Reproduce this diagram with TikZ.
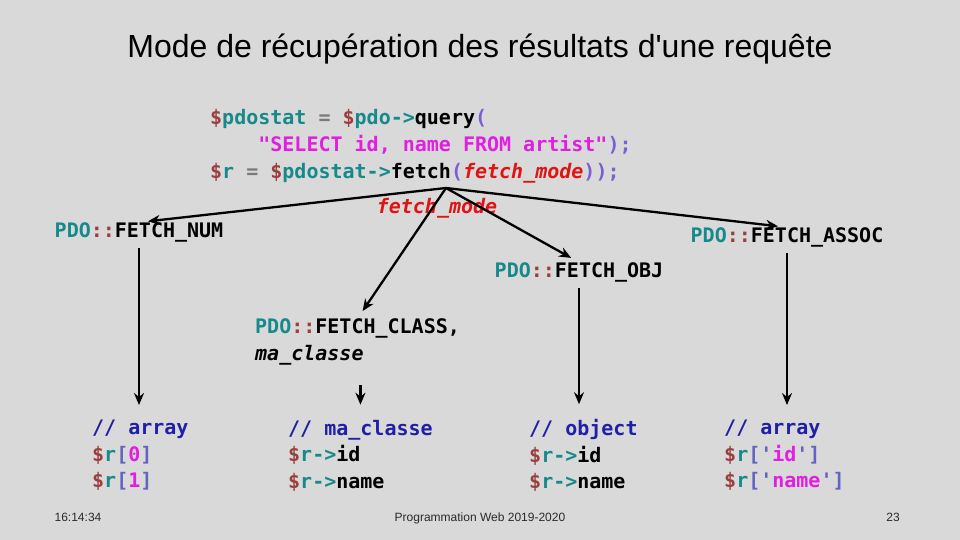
\documentclass[tikz,border=0pt]{standalone}
\usepackage{fontspec}
\setmainfont{Liberation Sans}
\setmonofont{DejaVu Sans Mono}
\usetikzlibrary{arrows.meta}

\definecolor{slidebg}{HTML}{D9D9D9}
\definecolor{phpdollar}{HTML}{9A3E3E}
\definecolor{phpteal}{HTML}{168A8A}
\definecolor{phpop}{HTML}{7A7A7A}
\definecolor{phpparen}{HTML}{7A5FD6}
\definecolor{phpstr}{HTML}{E01FE0}
\definecolor{phpred}{HTML}{E01414}
\definecolor{phpcom}{HTML}{1F1FA8}
\definecolor{phpbr}{HTML}{6464C0}
\definecolor{footgray}{HTML}{2A2A2A}

\newcommand{\codefont}{\ttfamily\bfseries\fontsize{20}{27}\selectfont}
\newcommand{\phpv}[1]{\textcolor{phpdollar}{\$}\textcolor{phpteal}{#1}}
\newcommand{\phparrow}{\textcolor{phpteal}{->}}
\newcommand{\pdoconst}[1]{\textcolor{phpteal}{PDO}\textcolor{phpdollar}{::}#1}

\begin{document}
\begin{tikzpicture}[
  x=1pt, y=-1pt,
  >={Stealth[length=12pt,width=10pt]},
  code/.style={font=\codefont, text=black, inner sep=0pt, align=left},
  label/.style={code, text height=15pt, text depth=4pt},
  block/.style={code, font=\ttfamily\bfseries\fontsize{20}{26.5}\selectfont,
                execute at begin node=\strut, execute at end node=\strut},
  footer/.style={text=footgray, font=\fontsize{12}{14}\selectfont, anchor=base},
  link/.style={->, line width=2.3pt, shorten >=9pt},
  down/.style={->, line width=2.3pt, shorten <=6pt, shorten >=15pt},
]
\useasboundingbox (0,0) rectangle (960,540);
\fill[slidebg] (0,0) rectangle (960,540);

% ===== title =====
\node (title) at (480,49) {\fontsize{32}{36}\selectfont Mode de récupération des résultats d\textquotesingle une requête};

% ===== query code =====
\node (query) [code, anchor=west] at (210,146) {%
  \phpv{pdostat} \textcolor{phpop}{=} \phpv{pdo}\phparrow query\textcolor{phpparen}{(}\\
  \phantom{xxxx}\textcolor{phpstr}{"SELECT id, name FROM artist"}\textcolor{phpparen}{);}\\
  \phpv{r} \textcolor{phpop}{=} \phpv{pdostat}\phparrow fetch\textcolor{phpparen}{(}\textcolor{phpred}{\itshape fetch\_mode}\textcolor{phpparen}{));}};

% ===== fetch modes =====
\coordinate (apex) at (446,188);
\node (fm) [label, text=phpred] at (437,208) {\itshape fetch\_mode};
\node (num)   [label] at (139,232) {\pdoconst{FETCH\_NUM}};
\node (assoc) [label] at (787,237) {\pdoconst{FETCH\_ASSOC}};
\node (obj)   [label] at (579,272) {\pdoconst{FETCH\_OBJ}};
\node (cls)   [code, anchor=west] at (255,342) {\pdoconst{FETCH\_CLASS,}\\ \itshape ma\_classe};

\draw[link] (apex) -- (num.north);
\draw[link] (apex) -- (assoc.north);
\draw[link] (apex) -- (obj.north);
\draw[link] (apex) -- (cls.north);

% ===== results =====
\node (blk1) [block, anchor=west] at (92,458) {%
  \textcolor{phpcom}{// array}\\
  \phpv{r}\textcolor{phpbr}{[}\textcolor{phpstr}{0}\textcolor{phpbr}{]}\\
  \phpv{r}\textcolor{phpbr}{[}\textcolor{phpstr}{1}\textcolor{phpbr}{]}};
\node (blk2) [block, anchor=west] at (288,458) {%
  \textcolor{phpcom}{// ma\_classe}\\
  \phpv{r}\phparrow id\\
  \phpv{r}\phparrow name};
\node (blk3) [block, anchor=west] at (529,458) {%
  \textcolor{phpcom}{// object}\\
  \phpv{r}\phparrow id\\
  \phpv{r}\phparrow name};
\node (blk4) [block, anchor=west] at (724,458) {%
  \textcolor{phpcom}{// array}\\
  \phpv{r}\textcolor{phpbr}{['}\textcolor{phpstr}{id}\textcolor{phpbr}{']}\\
  \phpv{r}\textcolor{phpbr}{['}\textcolor{phpstr}{name}\textcolor{phpbr}{']}};

\draw[down] (num.south) -- (num.south |- blk1.north);
\draw[down, shorten <=20pt] (cls.south -| blk2.north) -- (blk2.north);
\draw[down] (obj.south) -- (obj.south |- blk3.north);
\draw[down] (assoc.south) -- (assoc.south |- blk4.north);

% ===== footer =====
\node (clock)  [footer] at (78,521) {16:14:34};
\node (course) [footer] at (480,521) {Programmation Web 2019-2020};
\node (pageno) [footer] at (893,521) {23};
\end{tikzpicture}
\end{document}
